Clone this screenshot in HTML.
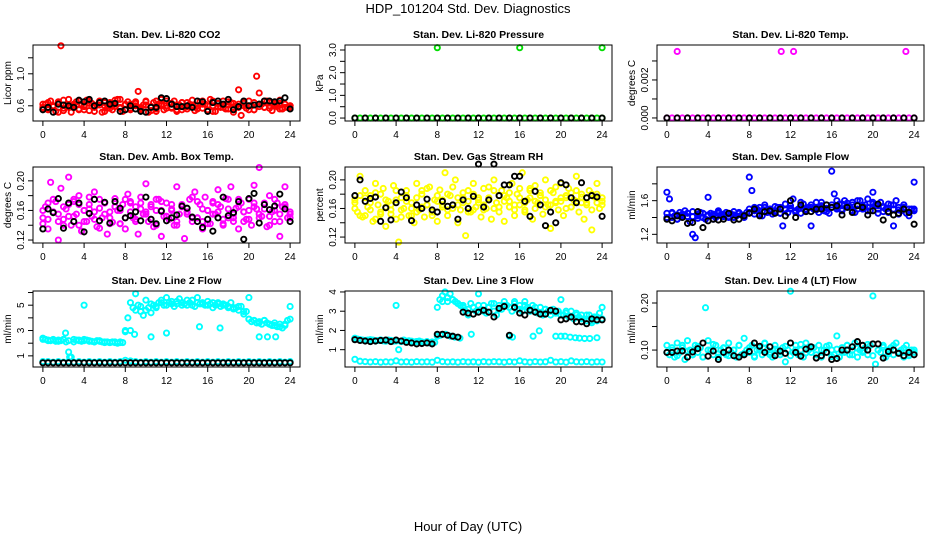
<!DOCTYPE html>
<html><head><meta charset="utf-8"><style>
html,body{margin:0;padding:0;background:#fff;}
svg{display:block;font-family:"Liberation Sans",Arial,sans-serif;}
</style></head><body>
<svg id="chart" width="936" height="540" viewBox="0 0 936 540" xmlns="http://www.w3.org/2000/svg">
<text x="468" y="13" text-anchor="middle" font-size="13">HDP_101204  Std. Dev. Diagnostics</text>
<text x="468" y="531" text-anchor="middle" font-size="13">Hour of Day (UTC)</text>
</svg>
<script>
// ---------- data ----------
const xTicks = [0,4,8,12,16,20,24];
const panelTitles = ["Stan. Dev. Li-820 CO2","Stan. Dev. Li-820 Pressure","Stan. Dev. Li-820 Temp.","Stan. Dev. Amb. Box Temp.","Stan. Dev. Gas Stream RH","Stan. Dev. Sample Flow","Stan. Dev. Line 2 Flow","Stan. Dev. Line 3 Flow","Stan. Dev. Line 4 (LT) Flow"];
const yTitles = ["Licor ppm","kPa","degrees C","degrees C","percent","ml/min","ml/min","ml/min","ml/min"];
const yRanges = [[0.41,1.36],[-0.13,3.22],[-0.00016,0.00384],[0.116,0.2187],[0.1117,0.218],[1.097,2.0],[0.12,6.12],[0.1,4.05],[0.064,0.2255]];
const yTickVals = [[0.6,0.8,1.0,1.2],[0,0.5,1,1.5,2,2.5,3],[0,0.001,0.002,0.003],[0.12,0.14,0.16,0.18,0.20],[0.12,0.14,0.16,0.18,0.20],[1.2,1.4,1.6,1.8],[1,2,3,4,5,6],[1,2,3,4],[0.10,0.15,0.20]];
const yTickLabels = [["0.6","","1.0",""],["0.0","","1.0","","2.0","","3.0"],["0.000","","0.002",""],["0.12","","0.16","","0.20"],["0.12","","0.16","","0.20"],["1.2","","1.6",""],["1","","3","","5",""],["1","2","3","4"],["0.10","","0.20"]];

// CO2
const co2Red = [0.58,0.62,0.55,0.66,0.6,0.53,0.64,1.35,0.57,0.61,0.68,0.52,0.6,0.65,0.56,0.62,0.59,0.67,0.54,0.63,0.58,0.61,0.66,0.52,0.6,0.57,0.64,0.55,0.62,0.68,0.58,0.53,0.61,0.65,0.57,0.6,0.63,0.78,0.55,0.61,0.66,0.52,0.59,0.64,0.56,0.62,0.68,0.55,0.6,0.63,0.57,0.66,0.53,0.61,0.64,0.58,0.56,0.62,0.67,0.54,0.6,0.65,0.57,0.62,0.55,0.68,0.6,0.53,0.63,0.58,0.66,0.56,0.61,0.64,0.52,0.6,0.8,0.48,0.63,0.57,0.66,0.6,0.55,0.97,0.76,0.62,0.58,0.66,0.6,0.54,0.63,0.59,0.67,0.56,0.62,0.58,0.6];
const co2Red2 = [0.62,0.56,0.6,0.65,0.54,0.61,0.58,0.66,0.55,0.63,0.59,0.64,0.53,0.6,0.67,0.57,0.62,0.55,0.65,0.58,0.61,0.54,0.66,0.6,0.57,0.63,0.55,0.64,0.59,0.61,0.56,0.66,0.6,0.53,0.63,0.58,0.65,0.57,0.62,0.6,0.55,0.64,0.59,0.66,0.57,0.61,0.63,0.58,0.6];
const co2Red3 = [0.56,0.64,0.59,0.52,0.67,0.58,0.62,0.55,0.6,0.66,0.53,0.61,0.64,0.57,0.59,0.68,0.55,0.62,0.6,0.56,0.65,0.59,0.53,0.62,0.66,0.58,0.61,0.55,0.64,0.6,0.57,0.62,0.54,0.66,0.59,0.61,0.56,0.63,0.58,0.65,0.6,0.55,0.62,0.58,0.64,0.6,0.56,0.62,0.58];
const co2Black = [0.55,0.58,0.52,0.62,0.61,0.6,0.58,0.67,0.65,0.68,0.6,0.64,0.66,0.62,0.63,0.53,0.55,0.6,0.56,0.53,0.52,0.58,0.58,0.7,0.69,0.62,0.59,0.59,0.6,0.58,0.66,0.65,0.53,0.64,0.66,0.62,0.68,0.55,0.59,0.66,0.6,0.61,0.62,0.66,0.66,0.65,0.66,0.7,0.56];
// Pressure
const presGreen = [0,0,0,0,0,0,0,0,0,0,0,0,0,0,0,0,0,0,0,0,0,0,0,0,0,0,0,0,0,0,0,0,0,0,0,0,0,0,0,0,0,0,0,0,0,0,0,0,0];
const presOutT = [8,16,24];
const presOutV = [3.1,3.1,3.1];
const presBlack = [0,0,0,0,0,0,0,0,0,0,0,0,0,0,0,0,0,0,0,0,0,0,0,0,0];
// Li-820 Temp
const tempMag = [0,0,0,0,0,0,0,0,0,0,0,0,0,0,0,0,0,0,0,0,0,0,0,0,0,0,0,0,0,0,0,0,0,0,0,0,0,0,0,0,0,0,0,0,0,0,0,0,0];
const tempOutT = [1,11.1,12.3,23.2];
const tempOutV = [0.0035,0.0035,0.0035,0.0035];
const tempBlack = [0,0,0,0,0,0,0,0,0,0,0,0,0,0,0,0,0,0,0,0,0,0,0,0,0];
// Amb box temp
const ambMag = [0.142,0.165,0.135,0.198,0.158,0.172,0.12,0.19,0.148,0.162,0.205,0.14,0.175,0.155,0.168,0.132,0.16,0.145,0.178,0.152,0.185,0.138,0.163,0.15,0.17,0.128,0.158,0.144,0.176,0.16,0.142,0.168,0.135,0.182,0.172,0.15,0.165,0.128,0.178,0.155,0.196,0.145,0.168,0.138,0.16,0.175,0.125,0.152,0.17,0.148,0.162,0.14,0.192,0.155,0.165,0.122,0.158,0.175,0.145,0.185,0.15,0.168,0.135,0.178,0.16,0.142,0.172,0.155,0.188,0.165,0.14,0.176,0.15,0.192,0.145,0.163,0.135,0.17,0.158,0.148,0.175,0.14,0.194,0.162,0.218,0.152,0.168,0.138,0.18,0.158,0.145,0.17,0.125,0.165,0.192,0.15,0.155];
const ambMag2 = [0.16,0.148,0.175,0.155,0.14,0.168,0.152,0.18,0.145,0.162,0.158,0.136,0.17,0.15,0.165,0.142,0.175,0.158,0.148,0.17,0.155,0.165,0.14,0.172,0.152,0.16,0.145,0.168,0.155,0.178,0.15,0.162,0.142,0.17,0.158,0.148,0.175,0.155,0.165,0.145,0.16,0.17,0.15,0.162,0.14,0.175,0.155,0.165,0.15];
const ambMag3 = [0.15,0.17,0.158,0.145,0.165,0.152,0.172,0.14,0.16,0.168,0.148,0.175,0.155,0.142,0.165,0.16,0.15,0.17,0.145,0.162,0.158,0.148,0.175,0.16,0.152,0.168,0.14,0.165,0.158,0.15,0.172,0.145,0.16,0.155,0.168,0.142,0.162,0.15,0.175,0.158,0.148,0.165,0.155,0.17,0.152,0.16,0.145,0.168,0.158];
const ambBlack = [0.135,0.162,0.157,0.176,0.136,0.17,0.145,0.17,0.131,0.156,0.175,0.146,0.171,0.143,0.172,0.163,0.15,0.153,0.158,0.146,0.178,0.148,0.142,0.159,0.146,0.15,0.154,0.166,0.163,0.151,0.145,0.137,0.148,0.132,0.15,0.178,0.153,0.157,0.172,0.121,0.176,0.183,0.143,0.168,0.161,0.166,0.182,0.162,0.145];
// RH
const rhYel = [0.172,0.155,0.205,0.148,0.185,0.162,0.178,0.142,0.195,0.165,0.152,0.188,0.135,0.17,0.158,0.192,0.145,0.113,0.175,0.16,0.185,0.15,0.168,0.14,0.195,0.158,0.18,0.148,0.165,0.19,0.155,0.172,0.142,0.186,0.162,0.21,0.15,0.178,0.165,0.2,0.14,0.158,0.182,0.122,0.17,0.155,0.195,0.162,0.175,0.148,0.188,0.16,0.172,0.145,0.2,0.168,0.155,0.185,0.142,0.175,0.162,0.195,0.15,0.18,0.165,0.21,0.155,0.172,0.185,0.145,0.192,0.168,0.178,0.152,0.2,0.165,0.132,0.182,0.17,0.158,0.195,0.15,0.175,0.188,0.162,0.172,0.205,0.155,0.18,0.145,0.168,0.185,0.13,0.176,0.195,0.16,0.17];
const rhYel2 = [0.16,0.178,0.15,0.168,0.182,0.155,0.172,0.165,0.185,0.158,0.17,0.15,0.175,0.162,0.188,0.155,0.17,0.165,0.18,0.16,0.175,0.168,0.185,0.158,0.172,0.165,0.19,0.16,0.178,0.17,0.182,0.165,0.175,0.158,0.188,0.17,0.178,0.162,0.185,0.168,0.175,0.16,0.182,0.17,0.176,0.165,0.18,0.168,0.175];
const rhYel3 = [0.168,0.15,0.175,0.158,0.145,0.18,0.162,0.152,0.172,0.148,0.178,0.16,0.155,0.185,0.165,0.15,0.178,0.172,0.158,0.19,0.165,0.175,0.155,0.18,0.168,0.158,0.175,0.185,0.162,0.178,0.17,0.158,0.188,0.168,0.175,0.16,0.182,0.172,0.165,0.19,0.17,0.178,0.162,0.185,0.168,0.175,0.158,0.18,0.165];
const rhBlack = [0.178,0.2,0.17,0.174,0.176,0.142,0.161,0.144,0.168,0.183,0.175,0.143,0.165,0.16,0.173,0.158,0.155,0.17,0.163,0.165,0.145,0.172,0.16,0.177,0.222,0.162,0.172,0.222,0.178,0.193,0.193,0.205,0.205,0.17,0.149,0.184,0.165,0.136,0.155,0.14,0.196,0.193,0.175,0.168,0.196,0.175,0.178,0.176,0.149];
// Sample flow
const sfBlue = [1.7,1.62,1.45,1.42,1.38,1.46,1.44,1.48,1.41,1.35,1.2,1.16,1.42,1.46,1.4,1.38,1.64,1.45,1.44,1.4,1.48,1.43,1.42,1.46,1.4,1.44,1.47,1.42,1.45,1.43,1.4,1.46,1.88,1.72,1.44,1.5,1.48,1.42,1.52,1.46,1.5,1.44,1.48,1.52,1.45,1.3,1.5,1.46,1.54,1.62,1.48,1.5,1.45,1.56,1.47,1.52,1.3,1.5,1.58,1.46,1.52,1.48,1.55,1.45,1.95,1.68,1.5,1.56,1.48,1.6,1.54,1.52,1.58,1.46,1.55,1.6,1.5,1.55,1.62,1.48,1.7,1.55,1.45,1.58,1.52,1.5,1.46,1.55,1.3,1.6,1.52,1.48,1.55,1.45,1.42,1.5,1.82];
const sfBlue2 = [1.45,1.4,1.43,1.42,1.45,1.41,1.44,1.4,1.43,1.42,1.45,1.44,1.41,1.43,1.45,1.42,1.5,1.48,1.52,1.47,1.5,1.46,1.52,1.49,1.51,1.48,1.53,1.5,1.52,1.49,1.54,1.51,1.55,1.52,1.56,1.53,1.55,1.5,1.54,1.52,1.56,1.5,1.53,1.51,1.55,1.49,1.52,1.5,1.48];
const sfBlue3 = [1.4,1.46,1.38,1.44,1.41,1.47,1.39,1.45,1.42,1.38,1.46,1.41,1.44,1.4,1.46,1.43,1.46,1.52,1.44,1.55,1.47,1.53,1.45,1.56,1.5,1.46,1.58,1.48,1.55,1.52,1.58,1.47,1.52,1.6,1.5,1.57,1.48,1.6,1.52,1.48,1.58,1.54,1.47,1.56,1.5,1.44,1.55,1.46,1.5];
const sfBlack = [1.38,1.36,1.42,1.4,1.33,1.34,1.47,1.28,1.36,1.38,1.37,1.38,1.45,1.37,1.38,1.42,1.45,1.5,1.42,1.47,1.48,1.45,1.5,1.42,1.6,1.4,1.55,1.47,1.47,1.5,1.5,1.55,1.52,1.54,1.43,1.52,1.46,1.54,1.52,1.43,1.48,1.56,1.37,1.47,1.43,1.45,1.5,1.46,1.32];
// Line 2 flow
const l2Main = [2.4,2.3,2.25,2.2,2.3,2.15,2.25,2.2,2.3,2.1,1.3,0.9,2.3,2.25,2.2,2.15,2.3,2.25,2.2,2.15,2.1,2.2,2.15,2.1,2.05,2.1,2.05,2.1,2.05,2.0,2.1,2.05,3.0,4.0,5.2,4.8,5.9,5.0,4.5,4.2,5.4,4.8,4.4,5.0,4.9,5.2,5.4,5.0,5.6,5.2,5.1,4.9,5.3,5.5,5.0,5.1,5.4,5.2,5.0,4.9,5.6,5.1,5.2,5.0,5.3,5.1,4.8,5.0,5.2,4.9,5.1,5.0,4.8,5.2,4.7,4.8,4.6,4.9,4.3,4.5,3.9,3.7,3.8,3.6,3.7,3.5,3.8,3.6,3.5,3.4,3.6,3.3,3.5,3.2,3.4,3.8,4.9];
const l2Main2 = [2.3,2.2,2.25,2.15,2.3,2.2,2.1,2.25,2.2,2.15,2.1,2.2,2.1,2.05,2.1,2.05,2.9,3.0,4.6,4.9,4.6,5.1,4.8,5.2,5.0,5.3,5.1,5.2,5.0,5.4,5.2,5.1,5.0,5.2,5.1,5.0,4.9,4.8,4.9,4.5,3.9,3.8,3.6,3.8,3.5,3.4,3.3,3.5,3.9];
const l2Side = [2.8,0.9,5.0,2.7,2.5,2.8,3.3,3.2,5.6,2.5,2.5,2.5];
const l2SideT = [2.2,2.6,4.0,8.9,10.5,12.0,15.2,17.2,20.0,21.0,21.8,22.6];
const l2Low = [0.55,0.55,0.5,0.55,0.5,0.55,0.5,0.55,0.5,0.55,0.5,0.55,0.5,0.55,0.5,0.55,0.65,0.6,0.55,0.5,0.55,0.5,0.55,0.5,0.55,0.5,0.55,0.5,0.55,0.5,0.55,0.5,0.55,0.5,0.55,0.5,0.55,0.5,0.55,0.5,0.55,0.5,0.55,0.5,0.55,0.5,0.55,0.5,0.55];
const l2Black = [0.45,0.45,0.45,0.45,0.45,0.45,0.45,0.45,0.45,0.45,0.45,0.45,0.45,0.45,0.45,0.45,0.45,0.45,0.45,0.45,0.45,0.45,0.45,0.45,0.45,0.45,0.45,0.45,0.45,0.45,0.45,0.45,0.45,0.45,0.45,0.45,0.45,0.45,0.45,0.45,0.45,0.45,0.45,0.45,0.45,0.45,0.45,0.45,0.45];
// Line 3 flow
const l3Main = [1.6,1.55,1.52,1.5,1.48,1.5,1.46,1.5,1.45,1.48,1.5,1.46,1.45,1.5,1.48,1.44,3.3,1.0,1.45,1.5,1.42,1.46,1.44,1.4,1.42,1.45,1.4,1.38,1.42,1.35,1.4,1.38,3.2,3.6,3.8,4.0,3.5,3.9,3.6,3.5,3.4,3.3,3.2,3.0,2.8,3.4,3.2,3.0,3.9,3.1,3.3,2.9,3.2,3.4,3.0,2.8,3.3,3.1,3.5,3.3,3.2,3.0,3.4,3.1,3.3,3.0,3.5,3.2,3.1,3.3,3.0,2.9,3.2,2.8,3.1,3.0,2.8,3.1,2.9,3.0,3.6,2.8,2.9,2.7,3.0,2.6,2.9,2.7,2.8,2.6,2.5,2.8,2.4,2.7,2.5,2.9,3.2];
const l3Main2 = [1.55,1.5,1.48,1.52,1.46,1.5,1.44,1.48,1.45,1.42,1.44,1.4,1.42,1.38,1.4,1.36,1.7,3.5,3.7,3.6,3.4,3.3,3.1,3.2,3.3,3.0,3.2,3.4,3.1,3.3,3.2,3.5,3.1,3.3,3.0,3.2,2.9,3.1,3.0,2.9,2.8,3.0,2.7,2.8,2.6,2.8,2.5,2.7,2.6];
const l3Side = [1.75,1.8,1.7,1.65,1.6,1.8,1.7,1.65,1.7,1.7,1.98,1.7,1.7,1.65,1.62,1.6,1.58,1.58,1.62];
const l3SideT = [8.3,8.8,9.3,9.7,10.2,11.3,15.0,15.3,17.3,19.5,17.9,20.0,20.4,20.9,21.4,21.8,22.3,22.8,23.5];
const l3Low = [0.5,0.4,0.38,0.36,0.38,0.35,0.37,0.36,0.42,0.36,0.37,0.35,0.38,0.36,0.37,0.35,0.45,0.38,0.36,0.37,0.35,0.38,0.36,0.37,0.35,0.38,0.36,0.38,0.37,0.35,0.38,0.36,0.42,0.37,0.35,0.38,0.36,0.37,0.45,0.36,0.38,0.35,0.42,0.37,0.36,0.38,0.35,0.37,0.36];
const l3Black = [1.52,1.48,1.45,1.42,1.45,1.48,1.5,1.42,1.5,1.45,1.38,1.35,1.3,1.32,1.35,1.3,1.8,1.8,1.75,1.7,1.65,2.95,2.9,2.85,2.95,3.05,2.95,2.7,3.15,3.25,1.75,3.2,2.9,2.8,3.05,2.95,2.85,2.85,3.05,3.0,2.55,2.6,2.7,2.45,2.45,2.35,2.6,2.55,2.55];
// Line 4 flow
const l4Cyan = [0.11,0.09,0.1,0.085,0.115,0.095,0.105,0.08,0.12,0.1,0.09,0.11,0.095,0.105,0.085,0.19,0.12,0.1,0.09,0.11,0.085,0.1,0.105,0.09,0.115,0.095,0.1,0.085,0.11,0.09,0.125,0.1,0.095,0.11,0.085,0.1,0.105,0.09,0.115,0.1,0.095,0.085,0.11,0.1,0.09,0.105,0.075,0.1,0.225,0.095,0.11,0.09,0.1,0.085,0.115,0.1,0.095,0.105,0.09,0.11,0.085,0.1,0.095,0.11,0.1,0.09,0.13,0.085,0.105,0.095,0.11,0.09,0.1,0.115,0.085,0.1,0.095,0.105,0.09,0.11,0.215,0.07,0.1,0.095,0.11,0.085,0.1,0.105,0.09,0.115,0.095,0.1,0.085,0.11,0.09,0.1,0.095];
const l4Cyan2 = [0.095,0.105,0.088,0.11,0.098,0.09,0.108,0.085,0.1,0.112,0.092,0.104,0.088,0.1,0.11,0.093,0.105,0.087,0.1,0.114,0.09,0.102,0.096,0.108,0.088,0.1,0.112,0.094,0.104,0.09,0.1,0.108,0.086,0.102,0.095,0.11,0.09,0.104,0.098,0.112,0.088,0.1,0.106,0.092,0.11,0.096,0.104,0.088,0.1];
const l4Black = [0.095,0.095,0.098,0.098,0.085,0.096,0.103,0.115,0.087,0.098,0.08,0.095,0.1,0.088,0.085,0.09,0.097,0.115,0.108,0.095,0.107,0.088,0.098,0.093,0.115,0.095,0.087,0.102,0.107,0.083,0.088,0.095,0.08,0.082,0.1,0.1,0.107,0.118,0.11,0.1,0.113,0.113,0.083,0.097,0.1,0.093,0.088,0.095,0.09];

// ---------- layout ----------
const colLeft = [33,345,657];
const rowTop = [45,167,291];
const PW = 267, PH = 76;
const XMIN = -0.96, XMAX = 24.96;
const NS = "http://www.w3.org/2000/svg";
const svg = document.getElementById('chart');

function mk(tag, attrs, parent){
  const e = document.createElementNS(NS, tag);
  for (const k in attrs) e.setAttribute(k, attrs[k]);
  (parent||svg).appendChild(e);
  return e;
}

const panels = [];
for (let p = 0; p < 9; p++) {
  const L = colLeft[p%3], T = rowTop[Math.floor(p/3)];
  const yr = yRanges[p];
  const sx = v => L + (v - XMIN) / (XMAX - XMIN) * PW;
  const sy = v => T + PH - (v - yr[0]) / (yr[1] - yr[0]) * PH;
  const g = mk('g', {});
  
  
  const t = mk('text', {x: L + PW/2, y: T - 7, 'text-anchor':'middle', 'font-size':'10.5', 'font-weight':'bold'}, g);
  t.textContent = panelTitles[p];
  
  
  const pts = mk('g', {}, g);
  
  
  const frame = mk('rect', {x:L, y:T, width:PW, height:PH, fill:'none', stroke:'#000', 'stroke-width':'1'}, g);
  
  
  const xa = mk('g', {}, g);
  
  
  mk('line', {x1:sx(0), x2:sx(24), y1:T+PH, y2:T+PH, stroke:'#000'}, xa);
  xTicks.forEach(v => {
    mk('line', {x1:sx(v), x2:sx(v), y1:T+PH, y2:T+PH+5, stroke:'#000'}, xa);
    const tl = mk('text', {x:sx(v), y:T+PH+17, 'text-anchor':'middle', 'font-size':'10'}, xa);
    tl.textContent = v;
    
    
  });
  const ya = mk('g', {}, g);
  
  
  const tv = yTickVals[p];
  mk('line', {x1:L, x2:L, y1:sy(tv[0]), y2:sy(tv[tv.length-1]), stroke:'#000'}, ya);
  tv.forEach((v,i) => {
    mk('line', {x1:L-5, x2:L, y1:sy(v), y2:sy(v), stroke:'#000'}, ya);
    if (yTickLabels[p][i]) {
      const yl = mk('text', {x:0, y:0, 'text-anchor':'middle', 'font-size':'10', transform:`translate(${L-9},${sy(v)}) rotate(-90)`}, ya);
      yl.textContent = yTickLabels[p][i];
      
      
    }
  });
  const yt = mk('text', {x:0, y:0, 'text-anchor':'middle', 'font-size':'10', transform:`translate(${L-22},${T+PH/2}) rotate(-90)`}, g);
  yt.textContent = yTitles[p];
  
  
  panels.push({sx, sy, pts});
}

function series(p, vals, color, times){
  const P = panels[p];
  vals.forEach((v,i) => {
    const t = times ? times[i] : i * 24 / (vals.length - 1);
    const c = mk('circle', {cx:P.sx(t), cy:P.sy(v), r:2.6, fill:'none', stroke:color, 'stroke-width':'1.9'}, P.pts);
    
    
  });
}
const RED='#ff0000', GRN='#00dd00', MAG='#ff00ff', YEL='#ffff00', BLU='#0000ff', CYA='#00ffff', BLK='#000000';
series(0, co2Red, RED); series(0, co2Red2, RED); series(0, co2Red3, RED); series(0, co2Black, BLK);
series(1, presGreen, GRN); series(1, presOutV, GRN, presOutT); series(1, presBlack, BLK);
series(2, tempMag, MAG); series(2, tempOutV, MAG, tempOutT); series(2, tempBlack, BLK);
series(3, ambMag, MAG); series(3, ambMag2, MAG); series(3, ambMag3, MAG); series(3, ambBlack, BLK);
series(4, rhYel, YEL); series(4, rhYel2, YEL); series(4, rhYel3, YEL); series(4, rhBlack, BLK);
series(5, sfBlue, BLU); series(5, sfBlue2, BLU); series(5, sfBlue3, BLU); series(5, sfBlack, BLK);
series(6, l2Main, CYA); series(6, l2Main2, CYA); series(6, l2Side, CYA, l2SideT); series(6, l2Low, CYA); series(6, l2Black, BLK);
series(7, l3Main, CYA); series(7, l3Main2, CYA); series(7, l3Side, CYA, l3SideT); series(7, l3Low, CYA); series(7, l3Black, BLK);
series(8, l4Cyan, CYA); series(8, l4Cyan2, CYA); series(8, l4Black, BLK);
</script>
</body></html>
